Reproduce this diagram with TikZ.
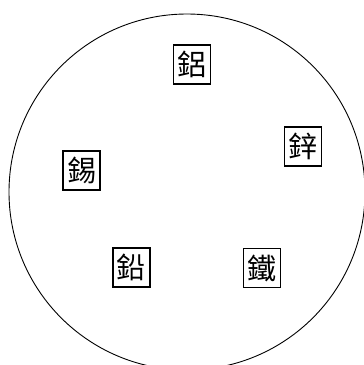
\documentclass[tikz,border=0pt]{standalone}
\usepackage{fontspec}
\newfontfamily\cjk{Noto Sans CJK TC}
\usetikzlibrary{positioning}

\begin{document}
\begin{tikzpicture}[x=1pt, y=-1pt, elembox/.style={draw, line width=1.8pt, rectangle, minimum width=37pt, minimum height=39pt, inner sep=0pt, font=\cjk\fontsize{29}{31}\selectfont}]
  \useasboundingbox (0,0) rectangle (364,365);
  \clip (0,0) rectangle (364,365);
  \draw[line width=0.9pt] (187,192) circle[radius=178pt];

  \node[elembox] (al) at (192,64.5) {鋁};
  \node[elembox] (zn) at (303,146.5) {鋅};
  \node[elembox] (sn) at (81.5,170.5) {錫};
  \node[elembox] (pb) at (131.5,267.5) {鉛};
  \node[elembox] (fe) at (262,268) {鐵};
\end{tikzpicture}
\end{document}
